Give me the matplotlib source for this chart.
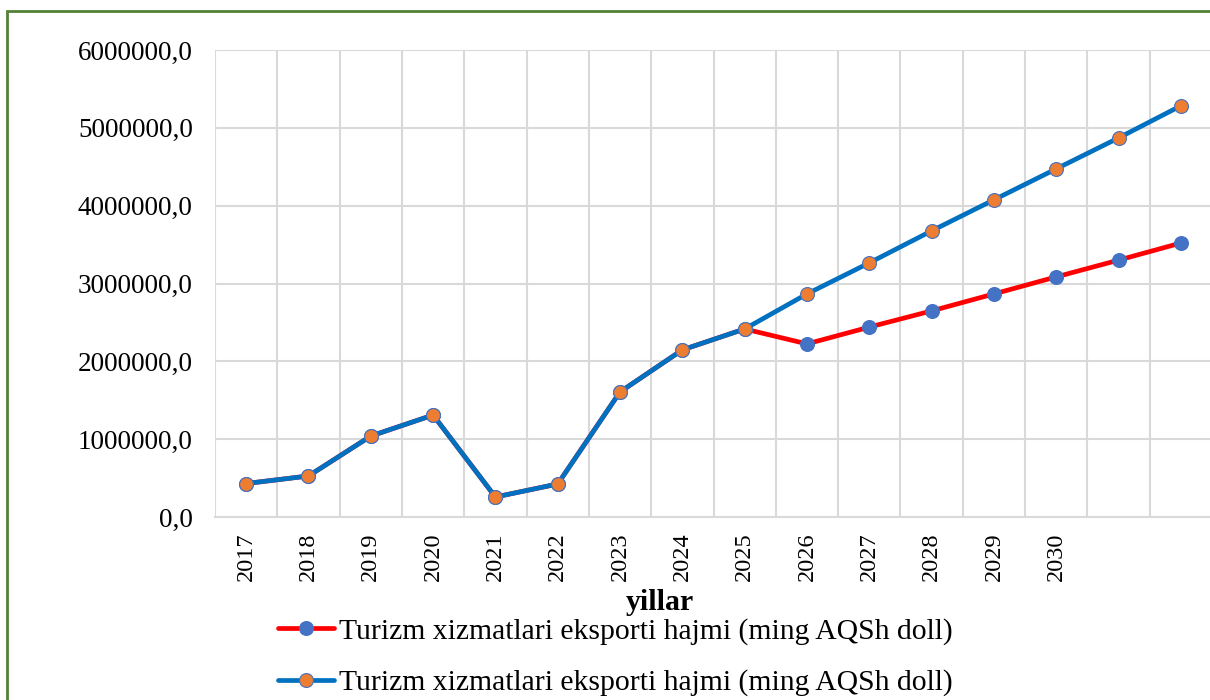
import matplotlib
matplotlib.use("Agg")
import matplotlib.pyplot as plt
from matplotlib.patches import Rectangle
from matplotlib.ticker import FuncFormatter

categories = ["2017", "2018", "2019", "2020", "2021", "2022", "2023", "2024",
              "2025", "2026", "2027", "2028", "2029", "2030", "", ""]
series_red = [430000, 527000, 1040000, 1310000, 257000, 424000, 1607000, 2147000,
              2416000, 2224000, 2440000, 2648000, 2866000, 3085000, 3300000, 3520000]
series_blue = [430000, 527000, 1040000, 1310000, 257000, 424000, 1607000, 2147000,
               2416000, 2866000, 3265000, 3676000, 4075000, 4473000, 4870000, 5283000]
legend_label = "Turizm xizmatlari eksporti hajmi (ming AQSh doll)"
x_title = "yillar"

plt.rcParams['font.family'] = ['Liberation Serif', 'DejaVu Serif']

W, H = 1210, 700
fig = plt.figure(figsize=(W / 100, H / 100), dpi=100)
fig.patch.set_facecolor("white")

left, right, top, bottom = 215, 1212, 50, 517
ax = fig.add_axes([left / W, 1 - bottom / H, (right - left) / W, (bottom - top) / H])

x = list(range(len(categories)))
l1, = ax.plot(x, series_red, color="#FF0000", lw=3.4, marker="o", ms=10,
              mfc="#4472C4", mec="#4472C4", mew=0.8, solid_capstyle="round", zorder=3)
l2, = ax.plot(x, series_blue, color="#0070C0", lw=3.4, marker="o", ms=10,
              mfc="#ED7D31", mec="#4472C4", mew=0.8, solid_capstyle="round", zorder=4)

ax.set_xlim(-0.5, len(categories) - 0.5)
ax.set_ylim(0, 6000000)
ax.set_yticks([0, 1000000, 2000000, 3000000, 4000000, 5000000, 6000000])
ax.yaxis.set_major_formatter(FuncFormatter(lambda v, p: f"{v:.1f}".replace(".", ",")))
ax.set_xticks(x)
ax.set_xticklabels(categories, rotation=90, fontsize=17.5, va="top")
ax.set_xticks([i - 0.5 for i in range(len(categories) + 1)], minor=True)
ax.tick_params(axis="x", which="both", length=0, pad=11)
ax.tick_params(axis="y", length=0, labelsize=19.5, pad=16)
ax.grid(True, axis="y", which="major", color="#D9D9D9", lw=1.5)
ax.grid(True, axis="x", which="minor", color="#D9D9D9", lw=1.5)
ax.grid(False, axis="x", which="major")
for s in ["top", "right", "left"]:
    ax.spines[s].set_visible(False)
ax.spines["bottom"].set_color("#D9D9D9")
ax.spines["bottom"].set_linewidth(1.5)
ax.set_axisbelow(True)

fig.text(660 / W, 1 - 602 / H, x_title, ha="center", va="center",
         fontsize=21.5, fontweight="bold")

leg = fig.legend([l1, l2], [legend_label, legend_label],
                 loc="upper left", bbox_to_anchor=(278 / W, 1 - 618 / H),
                 frameon=False, fontsize=21.3, handlelength=1.9, handletextpad=0.15,
                 labelspacing=0.82, borderpad=0, borderaxespad=0)

fig.patches.append(Rectangle((7 / W, -0.02), 1.05, 1 - 11 / H + 0.02,
                             transform=fig.transFigure, fill=False,
                             edgecolor="#538135", lw=2, zorder=10))

fig.savefig("out.png", dpi=100)
